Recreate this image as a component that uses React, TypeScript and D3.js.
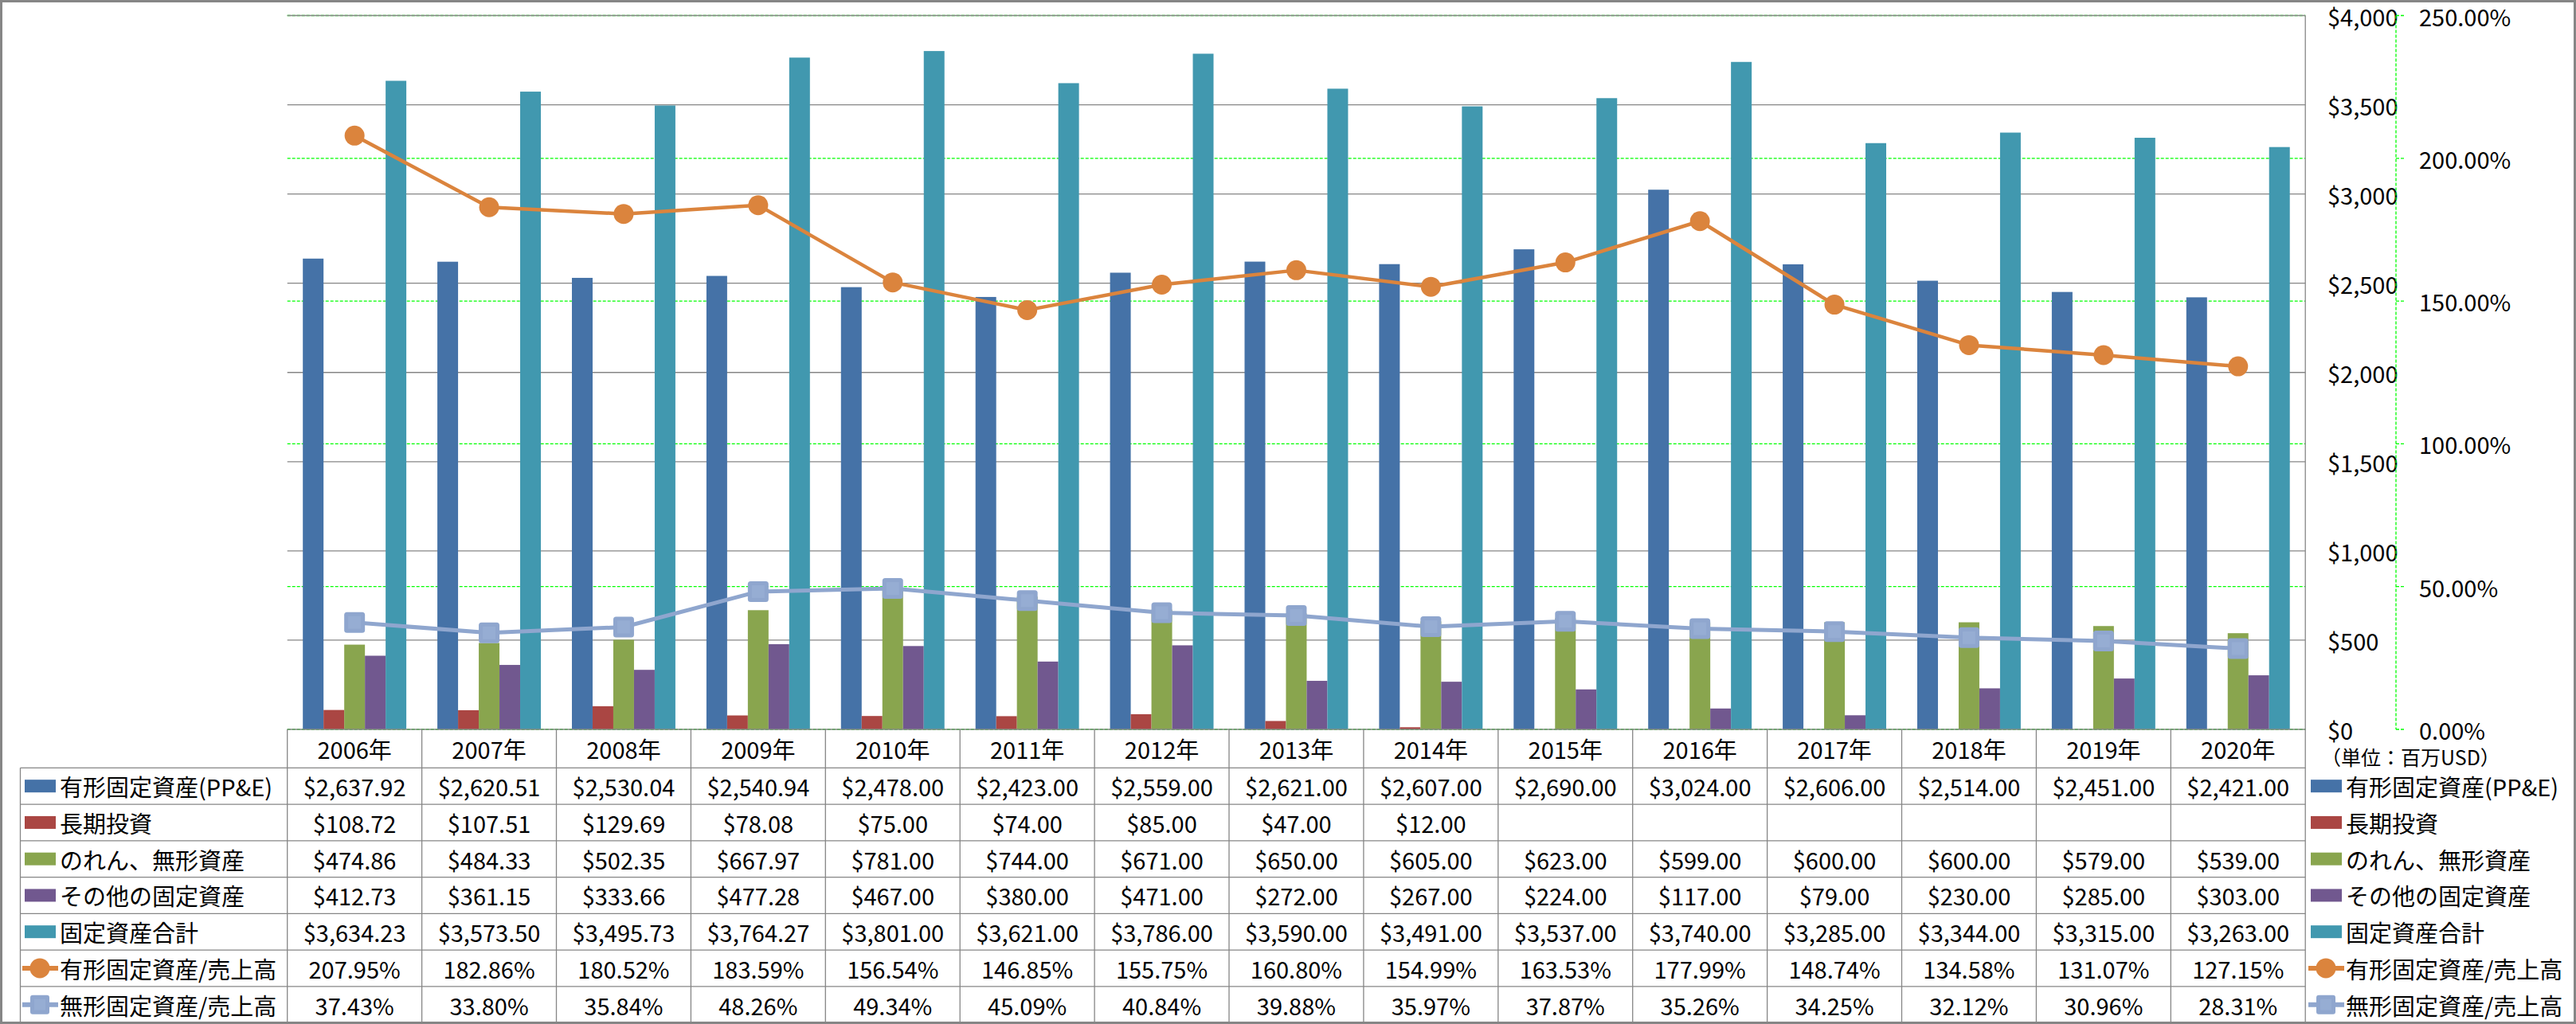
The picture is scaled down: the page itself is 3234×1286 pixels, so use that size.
import React from 'react';
import * as d3 from 'd3';

const years = ['2006年', '2007年', '2008年', '2009年', '2010年', '2011年', '2012年', '2013年', '2014年', '2015年', '2016年', '2017年', '2018年', '2019年', '2020年'];
const ppe = [2637.92, 2620.51, 2530.04, 2540.94, 2478.0, 2423.0, 2559.0, 2621.0, 2607.0, 2690.0, 3024.0, 2606.0, 2514.0, 2451.0, 2421.0];
const ltInvest: (number | null)[] = [108.72, 107.51, 129.69, 78.08, 75.0, 74.0, 85.0, 47.0, 12.0, null, null, null, null, null, null];
const intangibles = [474.86, 484.33, 502.35, 667.97, 781.0, 744.0, 671.0, 650.0, 605.0, 623.0, 599.0, 600.0, 600.0, 579.0, 539.0];
const otherAssets = [412.73, 361.15, 333.66, 477.28, 467.0, 380.0, 471.0, 272.0, 267.0, 224.0, 117.0, 79.0, 230.0, 285.0, 303.0];
const totalFixed = [3634.23, 3573.5, 3495.73, 3764.27, 3801.0, 3621.0, 3786.0, 3590.0, 3491.0, 3537.0, 3740.0, 3285.0, 3344.0, 3315.0, 3263.0];
const ppeRatio = [207.95, 182.86, 180.52, 183.59, 156.54, 146.85, 155.75, 160.8, 154.99, 163.53, 177.99, 148.74, 134.58, 131.07, 127.15];
const intangRatio = [37.43, 33.8, 35.84, 48.26, 49.34, 45.09, 40.84, 39.88, 35.97, 37.87, 35.26, 34.25, 32.12, 30.96, 28.31];
const usdTicks = [0, 500, 1000, 1500, 2000, 2500, 3000, 3500, 4000];
const pctTicks = [0, 50, 100, 150, 200, 250];
const unitLabel = '（単位：百万USD）';

const barSeries = [
  { name: '有形固定資産(PP&E)', values: ppe as (number | null)[], color: '#4572A7' },
  { name: '長期投資', values: ltInvest, color: '#AA4643' },
  { name: 'のれん、無形資産', values: intangibles as (number | null)[], color: '#89A54E' },
  { name: 'その他の固定資産', values: otherAssets as (number | null)[], color: '#71588F' },
  { name: '固定資産合計', values: totalFixed as (number | null)[], color: '#4198AF' },
];
const lineSeries = [
  { name: '有形固定資産/売上高', values: ppeRatio, color: '#DB843D', marker: 'circle' },
  { name: '無形固定資産/売上高', values: intangRatio, color: '#8FA6CE', marker: 'square' },
];

const W = 3234;
const H = 1286;
const X0 = 360.7;
const X1 = 2894.2;
const Y_TOP = 19.5;
const Y_BOT = 916;
const HEADER_BOT = 964.3;
const ROW_H = 45.75;
const LEG_LEFT = 25.5;
const FONT = "'Noto Sans CJK JP', 'Noto Sans', sans-serif";
const GRID = '#868686';

export default function App() {
  const x = d3.scaleBand<string>().domain(years).range([X0, X1]).paddingInner(0).paddingOuter(0);
  const xs = d3.scaleBand<number>().domain(barSeries.map((_, i) => i)).range([0, x.bandwidth()]).paddingInner(0).paddingOuter(0.75);
  const yL = d3.scaleLinear().domain([0, 4000]).range([Y_BOT, Y_TOP]);
  const yP = d3.scaleLinear().domain([0, 250]).range([Y_BOT, Y_TOP]);
  const cx = (i: number) => (x(years[i]) as number) + x.bandwidth() / 2;
  const fmtUsd = (v: number) => '$' + d3.format(',')(v);
  const fmtPct = (v: number) => d3.format('.2f')(v) + '%';
  const fmtCell = (v: number) => '$' + d3.format(',.2f')(v);

  const allRows = [
    ...barSeries.map((s) => ({ kind: 'bar', name: s.name, color: s.color, cells: s.values.map((v) => (v == null ? '' : fmtCell(v))), marker: '' })),
    ...lineSeries.map((s) => ({ kind: 'line', name: s.name, color: s.color, cells: s.values.map((v) => fmtPct(v)), marker: s.marker })),
  ];
  const rowY = (r: number) => HEADER_BOT + r * ROW_H;

  const legendSymbol = (row: any, sx: number, cyv: number, key: string) => {
    if (row.kind === 'bar') {
      return <rect key={key} x={sx + 3} y={cyv - 8} width={39} height={16} fill={row.color} />;
    }
    const mid = sx + 22;
    return (
      <g key={key}>
        <line x1={sx} x2={sx + 45} y1={cyv} y2={cyv} stroke={row.color} strokeWidth={6} />
        {row.marker === 'circle' ? (
          <circle cx={mid} cy={cyv} r={12.5} fill={row.color} />
        ) : (
          <g>
            <rect x={mid - 12} y={cyv - 12} width={24} height={24} rx={3} fill={row.color} />
            <rect x={mid - 7} y={cyv - 7} width={14} height={14} fill="#96ADD3" />
          </g>
        )}
      </g>
    );
  };

  const lineGen = (vals: number[]) =>
    d3.line<number>().x((_, i) => cx(i)).y((v) => yP(v))(vals) as string;

  return (
    <svg width={W} height={H} style={{ position: 'absolute', left: 0, top: 0, background: '#fff' }} fontFamily={FONT}>
      <rect x={0} y={0} width={W} height={H} fill="#fff" />
      {/* secondary gridlines */}
      {pctTicks.map((t) => (
        <line key={'pg' + t} x1={X0} x2={X1} y1={yP(t)} y2={yP(t)} stroke="#00FF00" strokeWidth={1.3} strokeDasharray="4,2" />
      ))}
      {/* primary gridlines */}
      {usdTicks.filter((t) => t > 0).map((t) => (
        <line key={'g' + t} x1={X0} x2={X1} y1={yL(t)} y2={yL(t)} stroke={GRID} strokeWidth={1.3} />
      ))}
      {/* bars */}
      {barSeries.map((s, si) =>
        s.values.map((v, i) =>
          v == null ? null : (
            <rect
              key={'b' + si + '-' + i}
              x={(x(years[i]) as number) + (xs(si) as number)}
              y={yL(v)}
              width={xs.bandwidth()}
              height={yL(0) - yL(v)}
              fill={s.color}
            />
          )
        )
      )}
      {/* lines */}
      {lineSeries.map((s, li) => (
        <path key={'l' + li} d={lineGen(s.values)} fill="none" stroke={s.color} strokeWidth={li === 0 ? 4.5 : 5} strokeLinejoin="round" />
      ))}
      {lineSeries[0].values.map((v, i) => (
        <circle key={'m0-' + i} cx={cx(i)} cy={yP(v)} r={12.5} fill={lineSeries[0].color} />
      ))}
      {lineSeries[1].values.map((v, i) => (
        <g key={'m1-' + i}>
          <rect x={cx(i) - 13} y={yP(v) - 13} width={26} height={26} rx={3.5} fill={lineSeries[1].color} />
          <rect x={cx(i) - 8} y={yP(v) - 8} width={16} height={16} fill="#96ADD3" />
        </g>
      ))}
      {/* primary axis line (right edge) */}
      <line x1={X1} x2={X1} y1={Y_TOP} y2={Y_BOT} stroke={GRID} strokeWidth={1.3} />
      {/* primary axis labels */}
      {usdTicks.map((t) => (
        <text key={'yl' + t} x={2922} y={yL(t)} dominantBaseline="central" fontSize={29} fill="#000">
          {fmtUsd(t)}
        </text>
      ))}
      {/* secondary axis */}
      <line x1={3008} x2={3008} y1={Y_TOP} y2={Y_BOT} stroke="#00FF00" strokeWidth={1.3} strokeDasharray="4,2" />
      {pctTicks.map((t) => (
        <g key={'pt' + t}>
          <line x1={3008} x2={3019} y1={yP(t)} y2={yP(t)} stroke="#00FF00" strokeWidth={1.3} strokeDasharray="4,2" />
          <text x={3037} y={yP(t)} dominantBaseline="central" fontSize={29} fill="#000">
            {fmtPct(t)}
          </text>
        </g>
      ))}
      <text x={2914} y={950} dominantBaseline="central" fontSize={25} fill="#000">
        {unitLabel}
      </text>
      {/* data table */}
      <line x1={X0} x2={X1} y1={Y_BOT} y2={Y_BOT} stroke={GRID} strokeWidth={1.5} />
      {d3.range(allRows.length + 1).map((r) => (
        <line key={'h' + r} x1={LEG_LEFT} x2={X1} y1={rowY(r)} y2={rowY(r)} stroke={GRID} strokeWidth={1.3} />
      ))}
      {d3.range(years.length + 1).map((j) => (
        <line key={'v' + j} x1={X0 + j * x.step()} x2={X0 + j * x.step()} y1={Y_BOT} y2={rowY(allRows.length)} stroke={GRID} strokeWidth={1.3} />
      ))}
      <line x1={LEG_LEFT} x2={LEG_LEFT} y1={HEADER_BOT} y2={rowY(allRows.length)} stroke={GRID} strokeWidth={1.3} />
      {years.map((yr, i) => (
        <text key={'yr' + i} x={cx(i)} y={(Y_BOT + HEADER_BOT) / 2} textAnchor="middle" dominantBaseline="central" fontSize={29} fill="#000">
          {yr}
        </text>
      ))}
      {allRows.map((row, r) => {
        const cyv = rowY(r) + ROW_H / 2;
        return (
          <g key={'row' + r}>
            {legendSymbol(row, 28, cyv, 'ls' + r)}
            <text x={75} y={cyv} dominantBaseline="central" fontSize={29} fill="#000">
              {row.name}
            </text>
            {row.cells.map((c, i) => (
              <text key={'c' + i} x={cx(i)} y={cyv} textAnchor="middle" dominantBaseline="central" fontSize={29} fill="#000">
                {c}
              </text>
            ))}
            {legendSymbol(row, 2898, cyv, 'rs' + r)}
            <text x={2945} y={cyv} dominantBaseline="central" fontSize={29} fill="#000">
              {row.name}
            </text>
          </g>
        );
      })}
      {/* outer frame */}
      <rect x={1.5} y={1.5} width={W - 3} height={H - 3} fill="none" stroke={GRID} strokeWidth={3} />
    </svg>
  );
}
